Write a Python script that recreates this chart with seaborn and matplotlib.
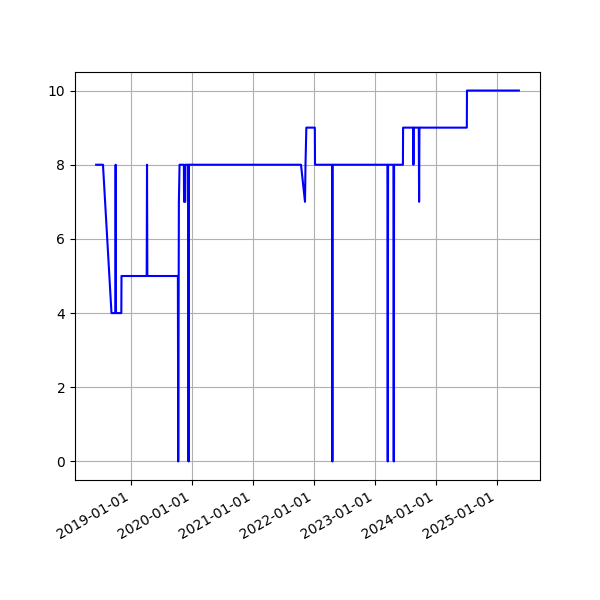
import pandas as pd
import matplotlib
matplotlib.use('Agg')
import matplotlib.pyplot as plt
import matplotlib.dates as mdates
import seaborn as sns

dates = [
    '2018-06-05', '2018-07-16', '2018-09-05', '2018-09-28', '2018-09-30',
    '2018-10-02', '2018-11-03', '2018-11-04', '2019-04-04', '2019-04-06',
    '2019-04-08', '2019-10-08', '2019-10-10', '2019-10-14', '2019-10-18',
    '2019-11-13', '2019-11-14', '2019-11-21', '2019-11-22', '2019-12-09',
    '2019-12-11', '2019-12-13', '2021-10-15', '2021-11-08', '2021-11-11',
    '2021-11-16', '2022-01-06', '2022-01-07', '2022-04-19', '2022-04-21',
    '2022-04-23', '2023-03-17', '2023-03-19', '2023-03-21', '2023-04-22',
    '2023-04-24', '2023-04-26', '2023-06-18', '2023-06-19', '2023-08-18',
    '2023-08-20', '2023-08-22', '2023-09-21', '2023-09-23', '2023-09-25',
    '2024-07-05', '2024-07-06', '2025-05-13',
]
values = [
    8, 8, 4, 4, 8,
    4, 4, 5, 5, 8,
    5, 5, 0, 7, 8,
    8, 7, 7, 8, 8,
    0, 8, 8, 7, 8,
    9, 9, 8, 8, 0,
    8, 8, 0, 8, 8,
    0, 8, 8, 9, 9,
    8, 9, 9, 7, 9,
    9, 10, 10,
]

df = pd.DataFrame({'date': pd.to_datetime(dates), 'value': values})

fig, ax = plt.subplots(figsize=(6, 6), dpi=100)
sns.lineplot(data=df, x='date', y='value', color='blue', estimator=None, ax=ax)
ax.set_xlabel('')
ax.set_ylabel('')
ax.xaxis.set_major_locator(mdates.YearLocator())
ax.xaxis.set_major_formatter(mdates.DateFormatter('%Y-%m-%d'))
ax.grid(True)
fig.autofmt_xdate()
fig.savefig('out.png')
